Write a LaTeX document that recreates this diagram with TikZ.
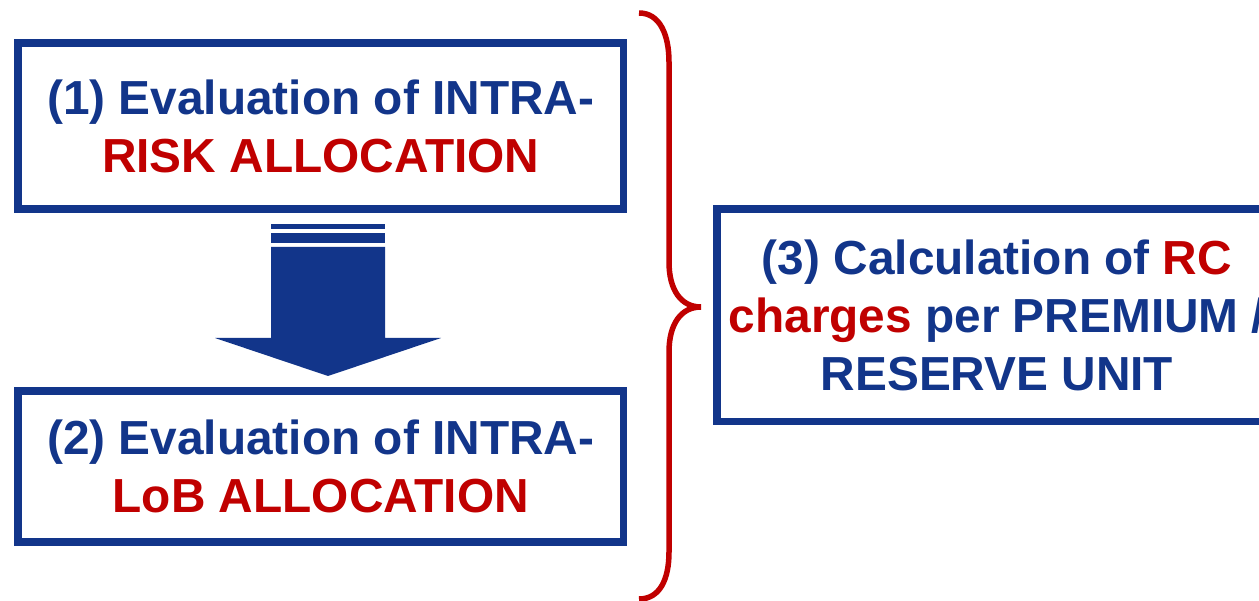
\documentclass[tikz,border=0pt]{standalone}
\usepackage{fontspec}
\setmainfont{Liberation Sans}
\definecolor{dblue}{HTML}{12358A}
\definecolor{dred}{HTML}{C00000}
\begin{document}
\begin{tikzpicture}[x=1pt,y=-1pt,
  boxst/.style={draw=dblue, line width=7.5pt, fill=white, inner sep=0pt,
    align=center, text=dblue, font=\fontsize{47.8}{58}\selectfont\bfseries},
  arrowfill/.style={fill=dblue, draw=none},
  bracest/.style={draw=dred, line width=5.5pt, line cap=butt}]
\useasboundingbox (0,0) rectangle (1259,601);
\clip (0,0) rectangle (1259,601);
\fill[white] (0,0) rectangle (1259,601);

\node[boxst, minimum width=605.5pt, minimum height=166pt] (box1) at (320.75,126)
  {(1) Evaluation of INTRA-\\\textcolor{dred}{RISK ALLOCATION}};
\node[boxst, minimum width=605.5pt, minimum height=151pt] (box2) at (320.75,466.5)
  {(2) Evaluation of INTRA-\\\textcolor{dred}{LoB ALLOCATION}};
\node[boxst, minimum width=560pt, minimum height=212.5pt] (box3) at (997,315.5)
  {(3) Calculation of \textcolor{dred}{RC}\\\textcolor{dred}{charges} per PREMIUM /\\RESERVE UNIT};

% block arrow from box1 to box2
\fill[arrowfill] (271,224) rectangle (385,229);
\fill[arrowfill] (271,233) rectangle (385,243);
\fill[arrowfill] (271,247) -- (385,247) -- (385,338) -- (441,338) -- (328,376)
  -- (215,338) -- (271,338) -- cycle;

% brace
\coordinate (btop) at (639,13);
\coordinate (btip) at (701,307);
\coordinate (bbot) at (639,599);
\draw[bracest] (btop) .. controls (660,13) and (669,35) .. (669,62)
  -- (669,262) .. controls (669,290) and (681,307) .. (btip)
  .. controls (681,307) and (669,324) .. (669,352)
  -- (669,552) .. controls (669,579) and (660,599) .. (bbot);
\end{tikzpicture}
\end{document}
